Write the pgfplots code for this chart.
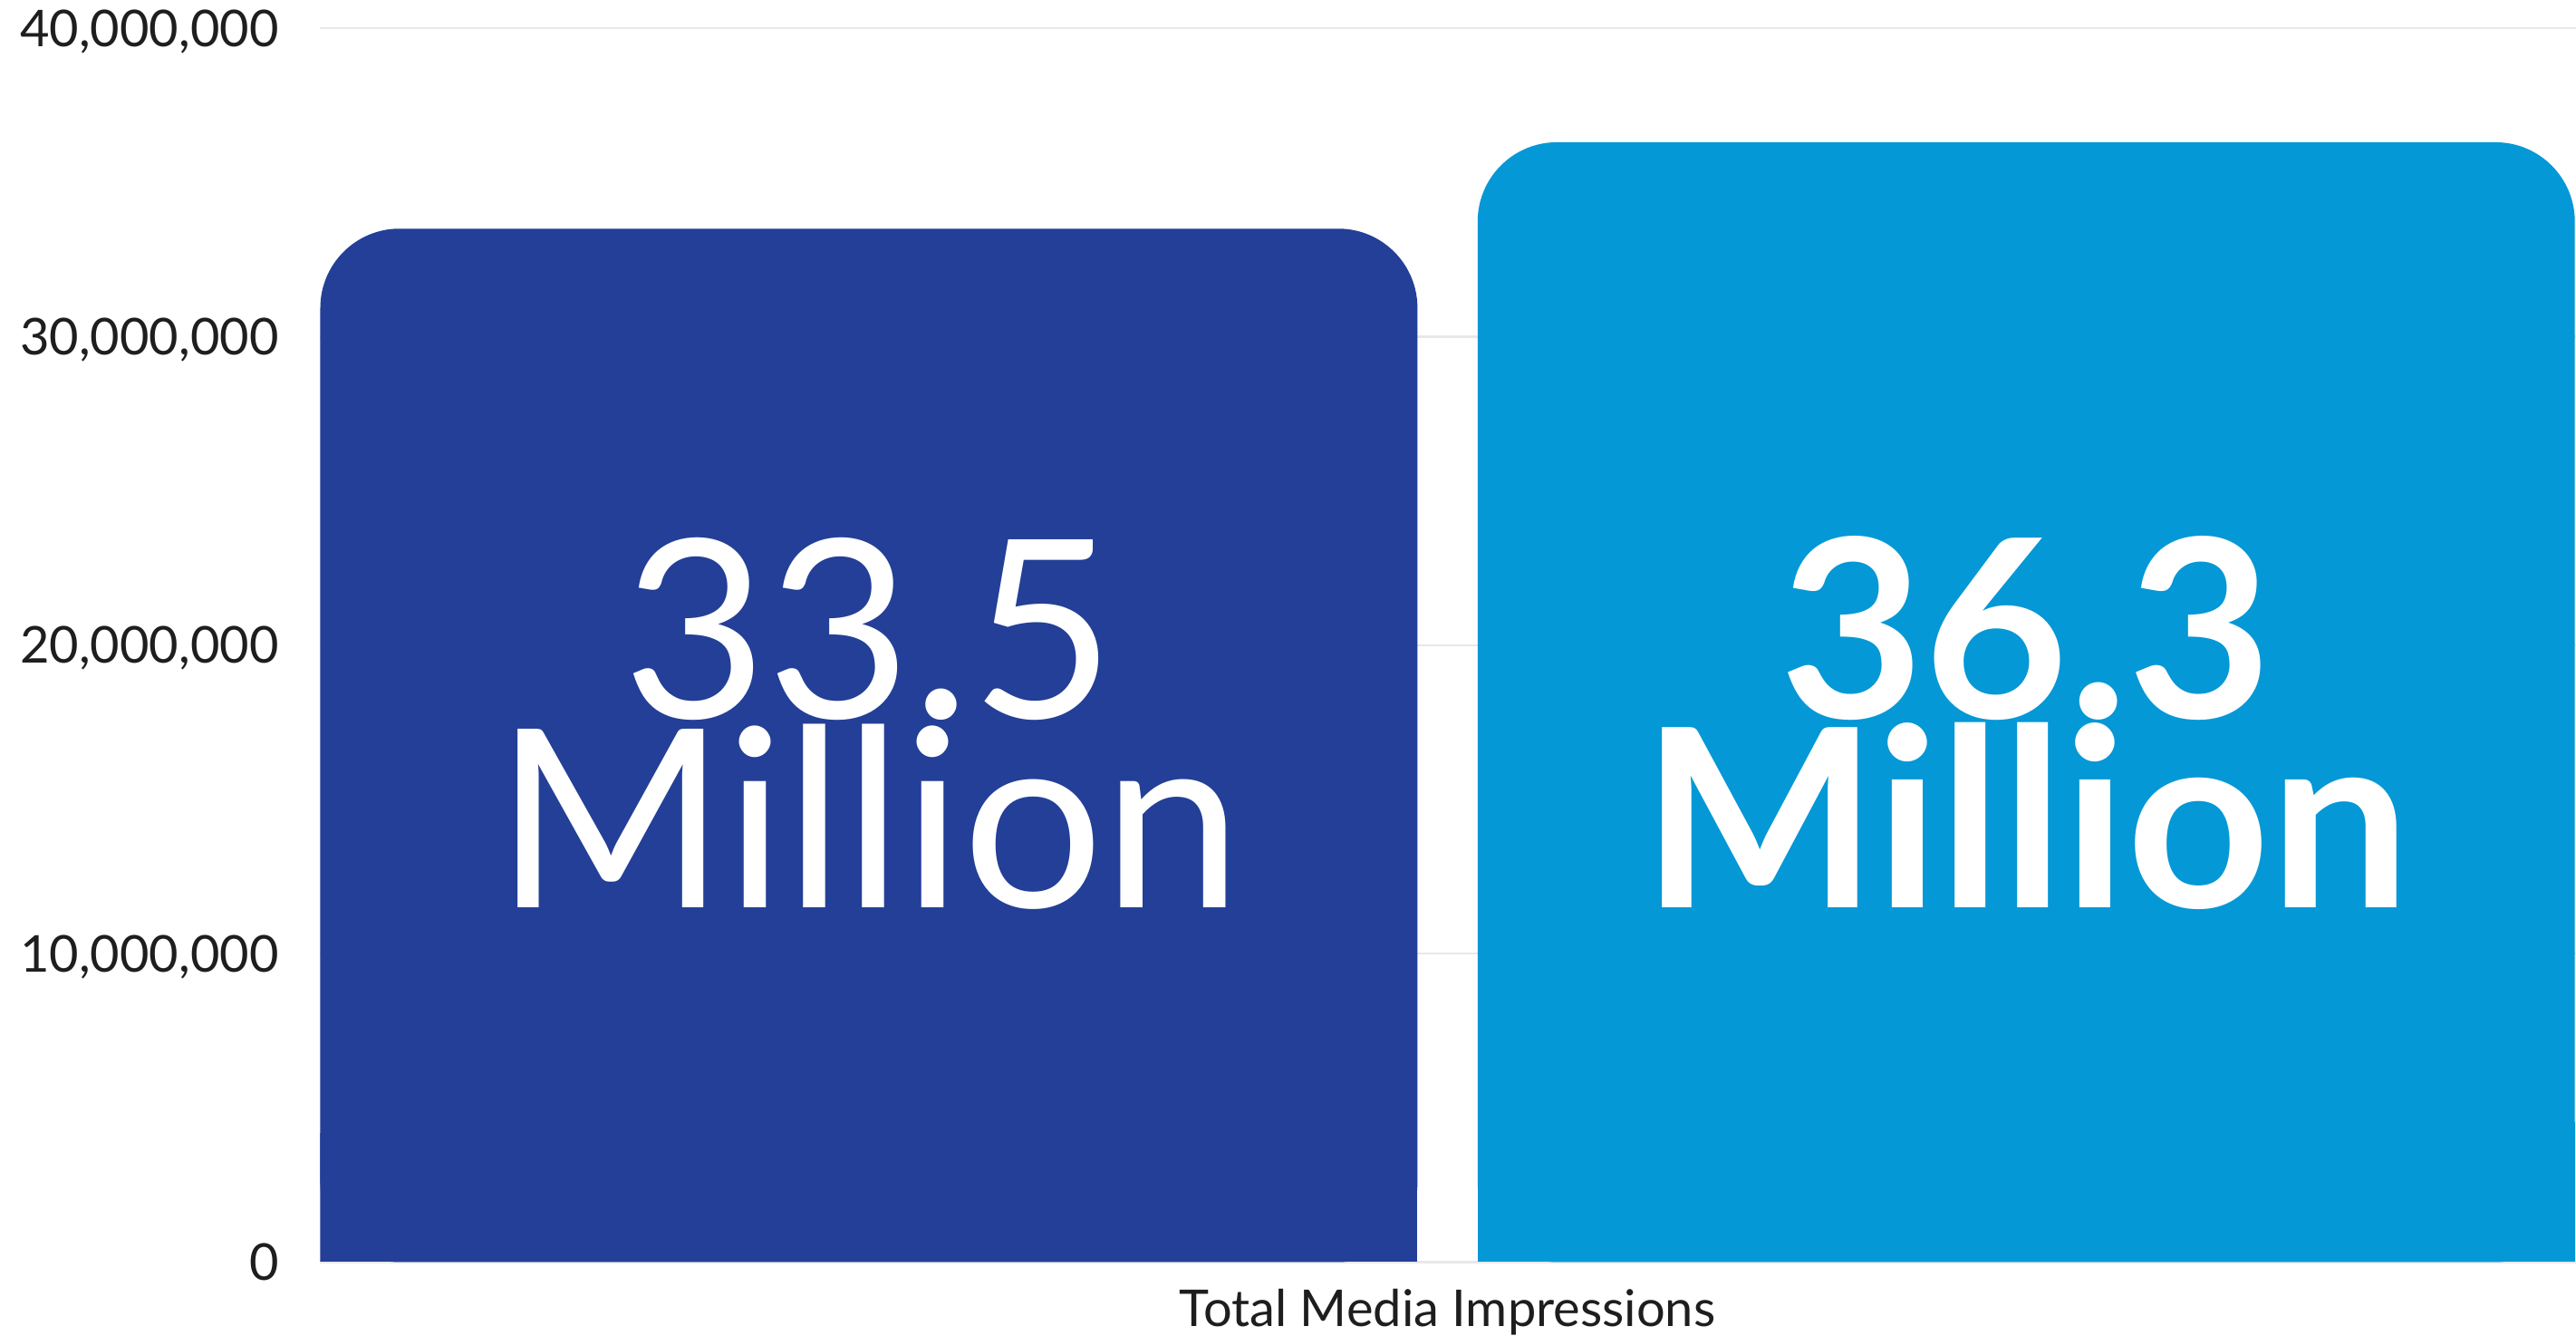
\documentclass[border=0pt]{standalone}
\usepackage{pgfplots}
\pgfplotsset{compat=1.18}
\usepackage{fontspec}
\setmainfont{Lato}
\definecolor{barA}{HTML}{233F97}
\definecolor{barB}{HTML}{0498D6}
\definecolor{gridc}{HTML}{E8E8E8}
\definecolor{labc}{HTML}{1E1E1E}
\begin{document}
\begin{tikzpicture}
\useasboundingbox (-70.7pt,-16.3pt) rectangle (497.9pt,278.5pt);
\begin{axis}[
  at={(0,0)}, anchor=south west,
  scale only axis,
  width=497.9pt, height=272.3pt,
  xmin=-0.474, xmax=1.475,
  ymin=0, ymax=40e6,
  ytick={0,10e6,20e6,30e6,40e6},
  yticklabels={0,{10,000,000},{20,000,000},{30,000,000},{40,000,000}},
  xtick={0.5},
  xticklabels={Total Media Impressions},
  ymajorgrids,
  grid style={color=gridc, line width=0.5pt},
  axis line style={draw=none},
  major tick length=0pt,
  tick style={draw=none},
  tick label style={font=\fontsize{11.2}{13}\selectfont, text=labc},
  yticklabel style={xshift=-9pt, inner sep=0pt, text depth=0pt, text height=8pt},
  xticklabel style={yshift=-2.5pt},
  clip=true,
]
% rounded-top bars (bottom corners covered by a square filler)
\addplot[ybar, bar shift=0pt, bar width=0.948, fill=barA, draw=none, rounded corners=17.5pt]
  coordinates {(0,33.5e6)};
\addplot[ybar, bar shift=0pt, bar width=0.948, fill=barA, draw=none, y filter/.expression={y/8}]
  coordinates {(0,33.5e6)};
\addplot[ybar, bar shift=0pt, bar width=0.948, fill=barB, draw=none, rounded corners=17.5pt]
  coordinates {(1,36.3e6)};
\addplot[ybar, bar shift=0pt, bar width=0.948, fill=barB, draw=none, y filter/.expression={y/8}]
  coordinates {(1,36.3e6)};
\node[anchor=base, text=white, inner sep=0pt, font=\fontsize{55}{55}\selectfont] at (axis cs:0,17.63e6) {33.5};
\node[anchor=base, text=white, inner sep=0pt, font=\fontsize{55}{55}\selectfont] at (axis cs:0,11.5e6) {Million};
\node[anchor=base, text=white, inner sep=0pt, font=\fontsize{55}{55}\selectfont\bfseries] at (axis cs:1,17.63e6) {36.3};
\node[anchor=base, text=white, inner sep=0pt, font=\fontsize{55}{55}\selectfont\bfseries] at (axis cs:1,11.5e6) {Million};
\end{axis}
\end{tikzpicture}
\end{document}
